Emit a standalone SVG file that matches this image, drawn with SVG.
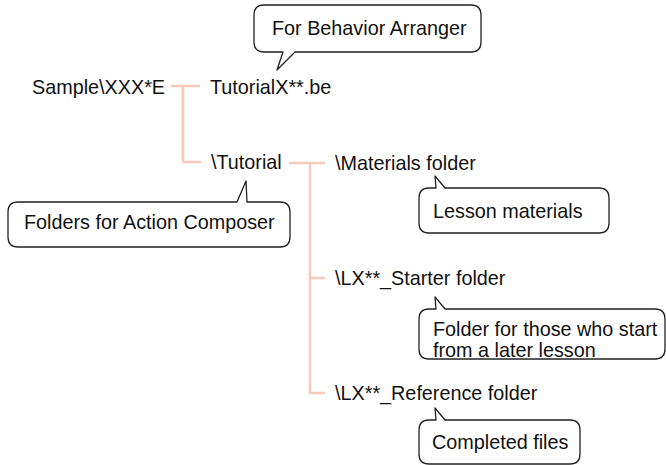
<svg xmlns="http://www.w3.org/2000/svg" width="666" height="465" viewBox="0 0 666 465">
<style>
text{font-family:"Liberation Sans",Arial,sans-serif;font-size:19.8px;fill:#111}
.c{fill:none;stroke:#F9C9B9;stroke-width:2.5}
.b{fill:#fff;stroke:#222;stroke-width:1.3;stroke-linejoin:round}
</style>
<rect width="666" height="465" fill="#fff"/>
<g id="connectors">
<path class="c" d="M171 86H200M183 86V162H201"/>
<path class="c" d="M289 163H325M310 163V393H325M310 278H325"/>
</g>
<g id="sample"><text x="32" y="94">Sample\XXX*E</text></g>
<g id="tutorialbe"><text x="210" y="94">TutorialX**.be</text></g>
<g id="tutorial"><text x="211" y="169">\Tutorial</text></g>
<g id="materials"><text x="335" y="170">\Materials folder</text></g>
<g id="starter"><text x="335" y="285">\LX**_Starter folder</text></g>
<g id="reference"><text x="335" y="400">\LX**_Reference folder</text></g>
<g id="callout-behavior">
<path class="b" d="M264 5H471Q481 5 481 15V42Q481 52 471 52H295L277 70L283 52H264Q254 52 254 42V15Q254 5 264 5Z"/>
<text x="272" y="35">For Behavior Arranger</text>
</g>
<g id="callout-composer">
<path class="b" d="M18 202H237L246 181L247 202H280Q290 202 290 212V237Q290 247 280 247H18Q8 247 8 237V212Q8 202 18 202Z"/>
<text x="24" y="229">Folders for Action Composer</text>
</g>
<g id="callout-lesson">
<path class="b" d="M429 188H436L435 176L445 188H599Q609 188 609 198V223Q609 233 599 233H429Q419 233 419 223V198Q419 188 429 188Z"/>
<text x="433" y="218">Lesson materials</text>
</g>
<g id="callout-starter">
<path class="b" d="M429 309H436L435 297L445 309H655Q665 309 665 319V349Q665 359 655 359H429Q419 359 419 349V319Q419 309 429 309Z"/>
<text x="433" y="336">Folder for those who start</text>
<text x="433" y="357">from a later lesson</text>
</g>
<g id="callout-completed">
<path class="b" d="M429 420H436L435 408L445 420H570Q580 420 580 430V454Q580 464 570 464H429Q419 464 419 454V430Q419 420 429 420Z"/>
<text x="432" y="449">Completed files</text>
</g>
</svg>
